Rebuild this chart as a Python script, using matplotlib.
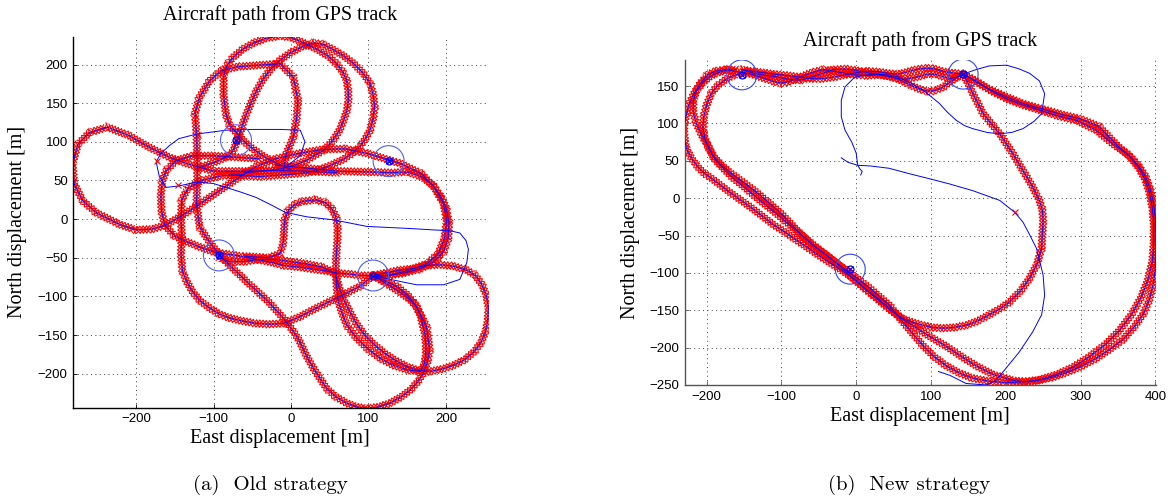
import matplotlib
matplotlib.use("Agg")
import matplotlib.pyplot as plt
from matplotlib.patches import Circle
from matplotlib import patheffects as pe

# ---------------- panel (a): old strategy ----------------
a_wp_x = [-71, 126, -93, 106]
a_wp_y = [102, 75, -47, -73]

a_left_x = [60, 20, -20, -60, -100, -135, -157, -183, -209, -237, -260, -275, -282, -280, -269, -251, -221, -200,
            -180, -162, -140, -120, -95, -70, -45, -20, 10, 40, 70, 98, 115, 141, 168, 185, 197, 201, 198, 190,
            175, 150, 125, 106]
a_left_y = [60, 62, 63, 62, 62, 72, 80, 93, 108, 119, 112, 97, 72, 46, 24, 8, -7, -14, -13, -8, 5, 18, 35, 52,
            68, 78, 85, 90, 91, 85, 80, 72, 59, 41, 20, -2, -25, -45, -58, -67, -73, -75]

a_b1_x = [-10, -6, 3, 7, 9, 3, -14, -44, -70, -90, -105, -118, -124, -122, -121, -121, -122, -118, -105, -93, -79,
          -55, -30, -10, 3, 11, 20, 29, 38, 46, 58, 72, 85, 98, 113, 128, 142, 154, 164, 171, 176, 179, 177, 175,
          168, 162, 152, 141, 124, 106]
a_b1_y = [62, 85, 106, 128, 153, 184, 201, 199, 197, 192, 179, 158, 137, 111, 80, 50, 20, -10, -30, -45, -60, -83,
          -106, -128, -145, -158, -177, -193, -207, -219, -230, -238, -243, -245, -243, -238, -230, -221, -210,
          -199, -185, -169, -154, -139, -125, -113, -103, -95, -84, -73]

a_g_x = [-60, -90, -115, -133, -141, -142, -141, -142, -140, -134, -127, -117, -105, -92, -79, -62, -45, -28, -10,
         10, 29, 55, 89, 106]
a_g_y = [58, 56, 50, 40, 25, 0, -20, -46, -68, -82, -94, -106, -115, -123, -128, -132, -135, -136, -135, -127,
         -117, -104, -87, -73]

a_b2_x = [0, -18, -35, -48, -60, -70, -79, -84, -87, -87, -82, -74, -62, -48, -32, -14, 0, 12, 33, 48, 59, 67, 72,
          74, 74, 72, 68, 63, 57, 50, 42, 30, 20, 0, -25, -60]
a_b2_y = [64, 72, 81, 90, 100, 111, 121, 136, 160, 185, 200, 210, 220, 228, 234, 237, 235, 230, 220, 211, 201, 190,
          179, 165, 153, 140, 128, 116, 106, 97, 89, 82, 76, 68, 63, 60]

a_b3_x = [-120, -95, -80, -74, -70, -66, -62, -57, -51, -44, -36, -27, -15, -1, 14, 29, 42, 55, 68, 80, 92, 102,
          106, 108, 106, 102, 96, 89, 79, 67, 52, 37, 20, 0, -40, -80]
a_b3_y = [66, 75, 82, 90, 100, 111, 124, 137, 152, 167, 181, 193, 205, 215, 223, 228, 226, 219, 211, 202, 190, 176,
          161, 146, 130, 115, 104, 94, 85, 77, 70, 64, 60, 58, 55, 57]

a_j_x = [-40, -70, -101, -127, -148, -161, -166, -168, -167, -163, -150, -135, -118, -101, -85, -71, -55, -40, -25,
         -10, 10, 30, 45, 60, 75, 90, 106]
a_j_y = [78, 80, 82, 82, 76, 63, 50, 30, 10, -8, -22, -29, -36, -42, -45, -47, -50, -53, -56, -60, -62, -65, -67,
         -70, -71, -73, -73]

a_h_x = [-60, -30, -14, -10, -9, -8, -3, 5, 15, 32, 45, 53, 58, 60, 60, 59, 58, 58, 59, 61, 66, 72, 84, 98, 115,
         132, 150, 167, 172, 174, 174, 173, 170, 167, 160, 150, 138, 124, 106]
a_h_y = [-48, -50, -45, -30, -15, 0, 12, 19, 23, 25, 21, 13, 3, -10, -25, -40, -55, -70, -88, -107, -122, -137,
         -153, -167, -180, -189, -195, -197, -188, -176, -163, -150, -137, -124, -110, -98, -88, -81, -73]

a_d_x = [106, 120, 140, 158, 175, 193, 210, 227, 238, 246, 252, 255, 254, 251, 245, 236, 224, 210, 195, 180, 165,
         150, 135, 120, 107, 95, 85, 76, 68, 62, 57, 40, 20, 0, -20, -40, -60, -80, -93]
a_d_y = [-73, -70, -66, -64, -60, -59, -61, -66, -73, -84, -98, -115, -131, -146, -160, -172, -182, -189, -194,
         -197, -196, -191, -183, -173, -162, -150, -136, -120, -104, -88, -70, -62, -58, -55, -52, -52, -55, -55, -50]

a_right_x = [-20, 20, 60, 100, 130, 150, 168, 182, 193, 200, 204, 203, 197, 185, 168, 145, 125, 106]
a_right_y = [70, 66, 62, 61, 60, 61, 55, 45, 30, 15, -5, -25, -42, -55, -64, -70, -73, -73]

a_blue_x = [-5, 12, 18, 12, -14, -50, -84, -122, -145, -157, -168, -174, -170, -161, -144, -122, -100, -84, -65,
            -45, -25, -8, 20, 55, 98, 150, 184, 205, 218, 226, 229, 227, 218, 197, 162, 128, 106]
a_blue_y = [69, 82, 100, 115, 116, 116, 115, 110, 104, 95, 85, 74, 55, 41, 43, 48, 46, 41, 35, 28, 18, 9, 3, -1,
            -9.5, -12, -14, -15, -18, -28, -39, -56, -78, -85, -85, -78, -73]

a_lone_x = [-173, -146, -120]
a_lone_y = [75, 44, 109]

# ---------------- panel (b): new strategy ----------------
b_wp_x = [-153, 143, -8]
b_wp_y = [165, 166, -95]

b_top_x = [-153, -140, -125, -110, -100, -90, -75, -60, -45, -30, -15, 0, 15, 30, 44, 55, 65, 75, 85, 95, 105, 115,
           125, 135, 143]
b_top1_y = [168, 166, 161, 156, 154, 156, 162, 168, 172, 170, 167, 165, 164, 165, 163, 160, 155, 150, 146, 143,
            144, 148, 155, 162, 166]
b_top2_y = [172, 170, 168, 166, 165, 164, 162, 160, 160, 162, 165, 168, 170, 169, 167, 166, 168, 171, 173, 174,
            173, 170, 168, 167, 166]
b_top3_y = [172, 168, 165, 163, 161, 159, 158, 162, 167, 172, 173, 171, 168, 166, 163, 160, 159, 161, 163, 166,
            166, 163, 160, 162, 166]

b_outer1_x = [143, 160, 180, 201, 222, 245, 270, 295, 321, 344, 357, 367, 378, 387, 393, 397, 400, 401, 401, 400,
              397, 392, 384, 372, 357, 338, 320, 299, 282, 265, 248, 231, 210, 183, 160, 144, 120, 95, 70, 46, 22,
              0, -20, -42, -64, -80, -96, -110, -123, -140, -154, -172, -190, -203, -212, -220, -226, -229, -230,
              -230, -228, -224, -217, -209, -199, -188, -176, -163, -153]
b_outer1_y = [166, 156, 144, 133, 125, 118, 110, 104, 91, 72, 63, 55, 43, 29, 13, -3, -25, -47, -70, -96, -116,
              -136, -155, -172, -189, -203, -215, -226, -233, -239, -243, -246, -244, -236, -224, -214, -198, -183,
              -167, -150, -130, -110, -96, -82, -67, -56, -45, -36, -26, -13, -3, 10, 24, 33, 42, 53, 64, 75, 86,
              97, 109, 125, 140, 153, 165, 170, 172, 170, 168]

b_outer2_x = [143, 158, 178, 200, 225, 250, 275, 300, 325, 340, 352, 365, 377, 386, 392, 396, 398, 398, 396, 390,
              381, 368, 352, 333, 312, 290, 268, 245, 222, 200, 178, 156, 138, 120, 104, 89, 66, 44, 20, 5, -25,
              -48, -70, -90, -110, -130, -150, -165, -178, -190, -198, -207, -214, -218, -218, -214, -205, -195,
              -185, -172, -160]
b_outer2_y = [166, 158, 146, 136, 126, 119, 112, 106, 96, 80, 68, 57, 42, 26, 8, -12, -35, -60, -85, -110, -133,
              -156, -177, -196, -212, -226, -236, -243, -246, -247, -245, -241, -234, -224, -212, -197, -170, -143,
              -122, -110, -88, -70, -52, -35, -18, -2, 15, 27, 40, 53, 70, 85, 100, 115, 130, 143, 155, 163, 168,
              172, 172]

b_inner_x = [143, 150, 156, 170, 182, 192, 208, 223, 235, 245, 249, 250, 249, 248, 242, 232, 220, 205, 192, 178,
             163, 147, 131, 116, 102, 89, 75, 62, 53, 44, 30, 10, -5, -20, -40, -60, -80, -100, -118, -136, -152,
             -167, -180, -190, -198, -203, -205, -204, -200, -194, -186, -176, -167, -158]
b_inner_y = [166, 153, 140, 113, 98, 86, 62, 37, 17, -3, -16, -30, -48, -67, -88, -107, -124, -139, -148, -156,
             -164, -170, -173, -174, -173, -170, -166, -161, -155, -147, -135, -120, -107, -92, -76, -62, -42, -21,
             -5, 10, 22, 33, 44, 55, 68, 82, 95, 109, 125, 140, 150, 158, 163, 166]

b_takeoff_x = [6, 8, 5, 2, 0, -6, -15, -20, -20, -15, -2, 20, 44, 57, 73, 89, 100, 111, 122, 134, 145, 156, 175,
               192, 208, 223, 238, 248, 252, 245, 232, 218, 201, 178, 160, 143]
b_takeoff_y = [31, 36, 39, 44, 60, 75, 91, 109, 131, 149, 162, 166, 165, 162, 154, 145, 136, 127, 115, 104, 97, 93,
               88, 86, 88, 93, 103, 113, 140, 157, 167, 173, 178, 177, 172, 166]

b_landing_x = [110, 125, 147, 174, 187, 200, 218, 236, 248, 252, 250, 241, 232, 223, 212, 192, 156, 125, 98, 70,
               44, 20, 2, -11, -20]
b_landing_y = [-232, -237, -248, -250, -244, -228, -206, -179, -156, -130, -103, -67, -49, -32, -19, -3, 10, 19,
               26, 33, 40, 43, 44, 48, 54]

b_lone_x = [212]
b_lone_y = [-19]

WP_RADIUS = 20

# red "x" samples drawn as crossing ticks along each autonomous leg
red_x = [pe.TickedStroke(spacing=2.4, angle=a, length=1.45, linewidth=0.8, foreground='red')
         for a in (45, 135, -45, -135)]

serif = ['Liberation Serif', 'DejaVu Serif']
sans = ['Liberation Sans', 'DejaVu Sans']

fig = plt.figure(figsize=(11.71, 4.97), dpi=100)
ax_a = fig.add_axes([0.0626, 0.1797, 0.3546, 0.7465])
ax_b = fig.add_axes([0.585, 0.2254, 0.4022, 0.654])


def style(ax, xlim, ylim, xticks, yticks, spine_col):
    ax.set_xlim(*xlim)
    ax.set_ylim(*ylim)
    ax.set_xticks(xticks)
    ax.set_yticks(yticks)
    ax.grid(True, ls=(0, (1, 3.5)), color='0.25', lw=0.7)
    ax.set_axisbelow(True)
    for s in ('top', 'right'):
        ax.spines[s].set_visible(False)
    for s in ('left', 'bottom'):
        ax.spines[s].set_color(spine_col)
        ax.spines[s].set_linewidth(1.0)
    ax.tick_params(direction='in', length=3, width=0.6, labelsize=9.5, pad=4, colors=spine_col,
                   labelcolor='black')
    for lab in ax.get_xticklabels() + ax.get_yticklabels():
        lab.set_family(sans)


def red_leg(ax, x, y):
    ax.plot(x, y, color='red', lw=0.8, path_effects=red_x, zorder=2)
    ax.plot(x, y, color='blue', lw=0.6, zorder=3)


def waypoints(ax, xs, ys, circ_col):
    for x, y in zip(xs, ys):
        ax.add_patch(Circle((x, y), WP_RADIUS, fill=False, ec=circ_col, lw=0.8, zorder=4))
    ax.plot(xs, ys, 'o', ms=5, mfc='none', mec='blue', mew=0.9, zorder=5)
    ax.plot(xs, ys, 'x', ms=5, color='blue', mew=0.9, zorder=5)


# panel (a)
style(ax_a, (-281, 255), (-244, 236), range(-200, 201, 100), range(-200, 201, 50), 'black')
for x, y in [(a_left_x, a_left_y), (a_b1_x, a_b1_y), (a_g_x, a_g_y), (a_b2_x, a_b2_y), (a_b3_x, a_b3_y),
             (a_j_x, a_j_y), (a_h_x, a_h_y), (a_d_x, a_d_y), (a_right_x, a_right_y)]:
    red_leg(ax_a, x, y)
ax_a.plot(a_blue_x, a_blue_y, color='blue', lw=0.7, zorder=3)
ax_a.plot(a_lone_x, a_lone_y, 'x', color='red', ms=5, mew=0.8, zorder=4)
waypoints(ax_a, a_wp_x, a_wp_y, '#4d5cff')

# panel (b)
style(ax_b, (-229, 401), (-250, 185), range(-200, 401, 100), range(-250, 151, 50), '#555555')
for y in (b_top1_y, b_top2_y, b_top3_y):
    red_leg(ax_b, b_top_x, y)
for x, y in [(b_outer1_x, b_outer1_y), (b_outer2_x, b_outer2_y), (b_inner_x, b_inner_y)]:
    red_leg(ax_b, x, y)
ax_b.plot(b_takeoff_x, b_takeoff_y, color='blue', lw=0.7, zorder=3)
ax_b.plot(b_landing_x, b_landing_y, color='blue', lw=0.7, zorder=3)
ax_b.plot(b_lone_x, b_lone_y, 'x', color='red', ms=5, mew=0.8, zorder=4)
waypoints(ax_b, b_wp_x, b_wp_y, '#3344ff')

# texts
W, H = 1171.0, 497.0
for cx, ty, xly in [(280, 15, 438), (920, 41.5, 417)]:
    fig.text(cx / W, 1 - ty / H, 'Aircraft path from GPS track', ha='center', va='center',
             family=serif, fontsize=14.5)
    fig.text(cx / W, 1 - xly / H, 'East displacement [m]', ha='center', va='center',
             family=serif, fontsize=14.5)
fig.text(18 / W, 1 - 222 / H, 'North displacement [m]', ha='center', va='center', rotation=90,
         family=serif, fontsize=14.5)
fig.text(631 / W, 1 - 222.5 / H, 'North displacement [m]', ha='center', va='center', rotation=90,
         family=serif, fontsize=14.5)
fig.text(270 / W, 1 - 485 / H, '(a)  Old strategy', ha='center', va='center', family=['cmr10', 'DejaVu Serif'],
         fontsize=15)
fig.text(909 / W, 1 - 485 / H, '(b)  New strategy', ha='center', va='center', family=['cmr10', 'DejaVu Serif'],
         fontsize=15)

fig.savefig('out.png', dpi=100)
